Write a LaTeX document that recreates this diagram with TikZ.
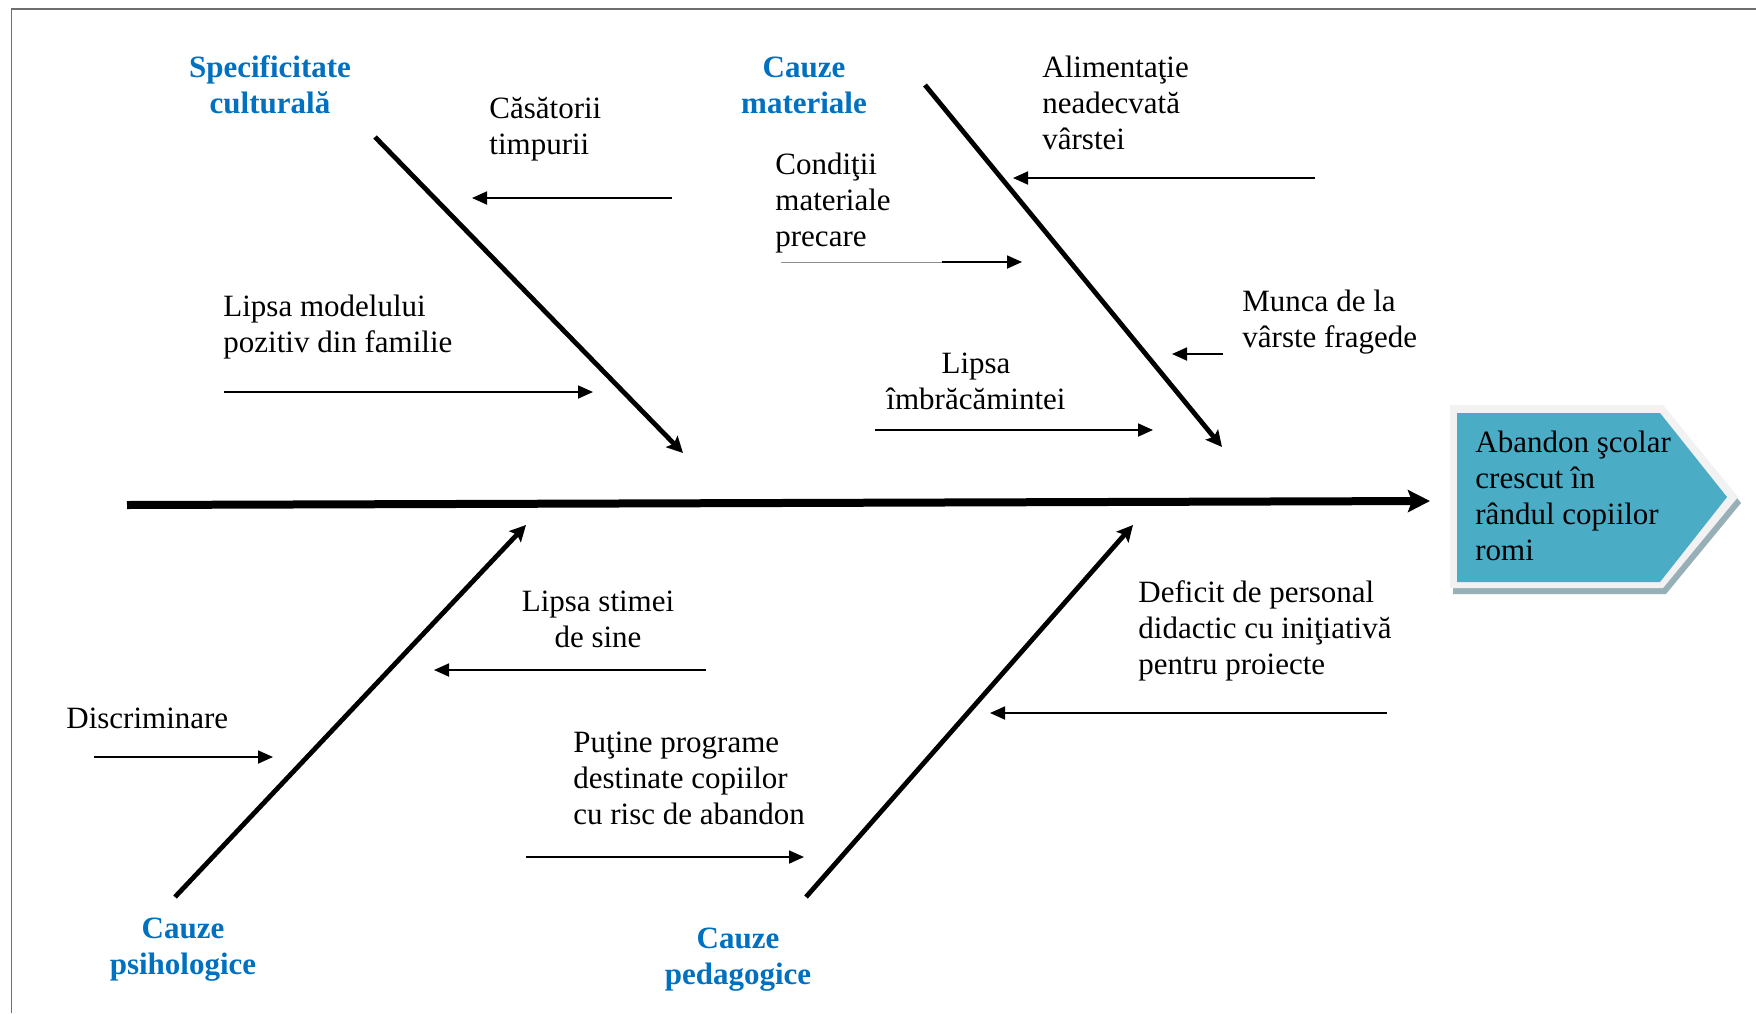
\documentclass[tikz,border=0pt]{standalone}
\usepackage{fontspec}
\setmainfont{Liberation Serif}
\usetikzlibrary{arrows.meta}
\definecolor{catblue}{HTML}{0070C0}
\definecolor{headblue}{HTML}{4BACC6}
\definecolor{headrim}{HTML}{F2F2F2}
\definecolor{headshadow}{HTML}{97AFB7}
\definecolor{framegray}{HTML}{6E6E6E}
\newcommand\fstrut{\rule{0pt}{12pt}}
\tikzset{
  lbl/.style={font=\fontsize{15.5}{18}\selectfont, inner sep=0pt, align=left, anchor=north west},
  clbl/.style={font=\fontsize{15.5}{18}\selectfont, inner sep=0pt, align=center, anchor=north},
  cat/.style={clbl, font=\fontsize{15.5}{18}\selectfont\bfseries, text=catblue},
  spine/.style={line width=4pt, -{Stealth[length=11pt,width=11pt,inset=2pt]}},
  bone/.style={line width=2.4pt, -{Stealth[length=8pt,width=8pt,inset=1.5pt]}},
  cause/.style={line width=0.9pt, -{Triangle[length=7.5pt,width=6.5pt]}},
}
\begin{document}
\begin{tikzpicture}[x=0.5pt,y=-0.5pt]
\useasboundingbox (0,0) rectangle (1756,1013);
\fill[white] (0,0) rectangle (1756,1013);
\draw[framegray, line width=0.8pt] (11.5,1013) -- (11.5,9) -- (1756,9);

% head
\fill[headshadow] (1453,411) -- (1666,411) -- (1741,503) -- (1666,594) -- (1453,594) -- cycle;
\fill[headrim] (1450,405) -- (1663,405) -- (1738,497) -- (1663,588) -- (1450,588) -- cycle;
\fill[headblue] (1457,413) -- (1660,413) -- (1727,497) -- (1660,582) -- (1457,582) -- cycle;
\node[lbl] (head) at (1475,428) {\fstrut Abandon şcolar\\crescut în\\rândul copiilor\\romi};

% spine and bones
\coordinate (spL) at (127,505);
\coordinate (spR) at (1430,501);
\draw[spine] (spL) -- (spR);

\coordinate (b1s) at (375,137);  \coordinate (b1e) at (683,453);
\coordinate (b2s) at (925,85);   \coordinate (b2e) at (1222,447);
\coordinate (b3s) at (175,897);  \coordinate (b3e) at (526,525);
\coordinate (b4s) at (806,897);  \coordinate (b4e) at (1133,525);
\draw[bone] (b1s) -- (b1e);
\draw[bone] (b2s) -- (b2e);
\draw[bone] (b3s) -- (b3e);
\draw[bone] (b4s) -- (b4e);

% category labels
\node[cat] (cSpec) at (270,53) {\fstrut Specificitate\\culturală};
\node[cat] (cMat) at (804,53) {\fstrut Cauze\\materiale};
\node[cat] (cPsi) at (183,914) {\fstrut Cauze\\psihologice};
\node[cat] (cPed) at (738,924) {\fstrut Cauze\\pedagogice};

% cause labels
\node[lbl] (tCas) at (489,94) {\fstrut Căsătorii\\timpurii};
\node[lbl] (tAli) at (1042,53) {\fstrut Alimentaţie\\neadecvată\\vârstei};
\node[lbl] (tCon) at (775,150) {\fstrut Condiţii\\materiale\\precare};
\node[lbl] (tMod) at (223,292) {\fstrut Lipsa modelului\\pozitiv din familie};
\node[lbl] (tMun) at (1242,287) {\fstrut Munca de la\\vârste fragede};
\node[clbl] (tImb) at (976,349) {\fstrut Lipsa\\îmbrăcămintei};
\node[lbl] (tDef) at (1138,578) {\fstrut Deficit de personal\\didactic cu iniţiativă\\pentru proiecte};
\node[clbl] (tSti) at (598,587) {\fstrut Lipsa stimei\\de sine};
\node[lbl] (tDis) at (66,704) {\fstrut Discriminare};
\node[lbl] (tPut) at (573,728) {\fstrut Puţine programe\\destinate copiilor\\cu risc de abandon};

% cause arrows
\coordinate (aCas1) at (672,198);  \coordinate (aCas2) at (472,198);
\coordinate (aMod1) at (224,392);  \coordinate (aMod2) at (593,392);
\coordinate (aAli1) at (1315,178); \coordinate (aAli2) at (1013,178);
\coordinate (aCon0) at (781,262);  \coordinate (aCon1) at (942,262); \coordinate (aCon2) at (1022,262);
\coordinate (aMun1) at (1223,354); \coordinate (aMun2) at (1172,354);
\coordinate (aImb1) at (875,430);  \coordinate (aImb2) at (1153,430);
\coordinate (aSti1) at (706,670);  \coordinate (aSti2) at (434,670);
\coordinate (aDis1) at (94,757);   \coordinate (aDis2) at (273,757);
\coordinate (aDef1) at (1387,713); \coordinate (aDef2) at (990,713);
\coordinate (aPut1) at (526,857);  \coordinate (aPut2) at (804,857);

\draw[cause] (aCas1) -- (aCas2);
\draw[cause] (aMod1) -- (aMod2);
\draw[cause] (aAli1) -- (aAli2);
\draw[black!45, line width=0.5pt] (aCon0) -- (aCon1);
\draw[cause] (aCon1) -- (aCon2);
\draw[cause] (aMun1) -- (aMun2);
\draw[cause] (aImb1) -- (aImb2);
\draw[cause] (aSti1) -- (aSti2);
\draw[cause] (aDis1) -- (aDis2);
\draw[cause] (aDef1) -- (aDef2);
\draw[cause] (aPut1) -- (aPut2);
\end{tikzpicture}
\end{document}
